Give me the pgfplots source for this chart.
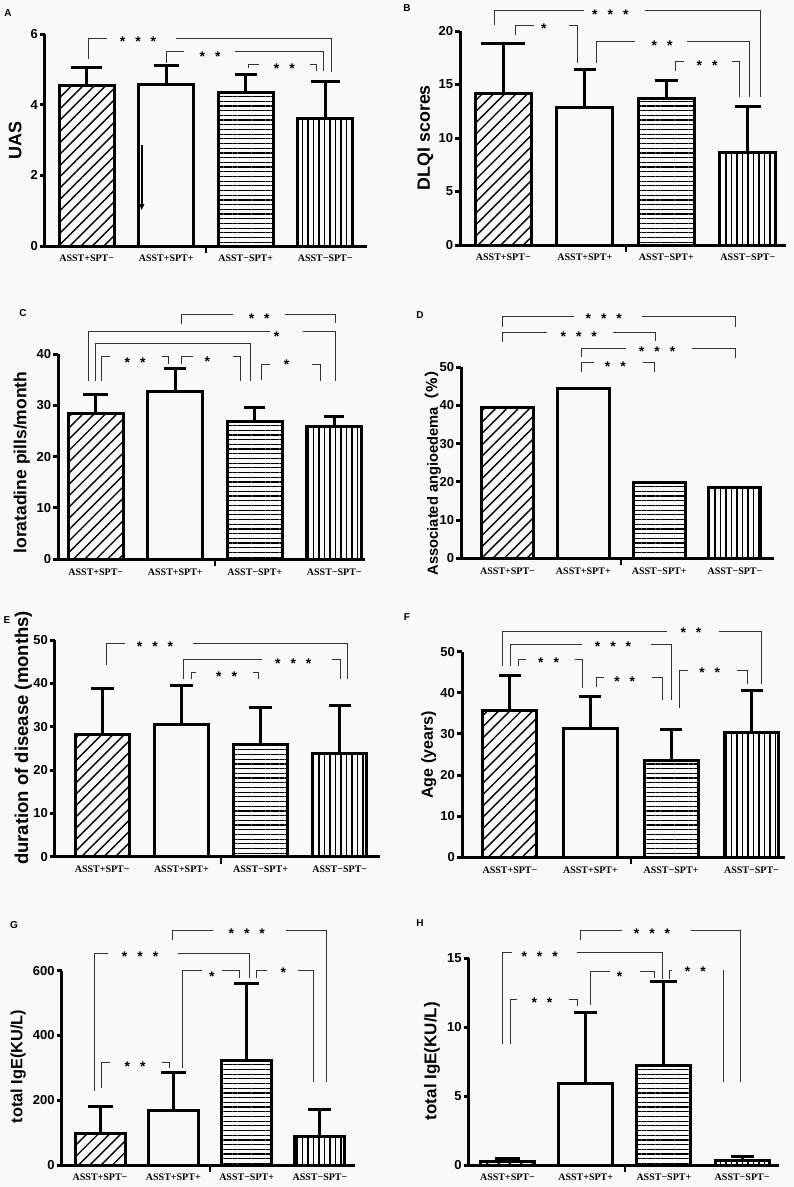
\documentclass[border=0pt]{standalone}
\usepackage{fontspec}
\setmainfont{Liberation Sans}
\newfontfamily\tnr{Liberation Serif}
\newfontfamily\cjk{Noto Sans CJK SC}
\usepackage{pgfplots}
\pgfplotsset{compat=1.18}
\usetikzlibrary{patterns.meta,arrows.meta}
\definecolor{bg}{RGB}{249,249,249}

\newcommand\cvx[2]{\pgfmathsetmacro#1{(#2-\xo)/\xs}}
\newcommand\cvy[2]{\pgfmathsetmacro#1{(\yo-#2)*\yk}}
\newcommand\brk[7]{%
 \cvx\qa{#1}\cvy\qb{#2}\cvy\qc{#3}\cvx\qd{#4}\cvx\qe{#5}\cvx\qf{#6}\cvy\qg{#7}%
 \edef\mytmp{\noexpand\draw[brk] (axis cs:\qa,\qb) -- (axis cs:\qa,\qc) -- (axis cs:\qd,\qc);
 \noexpand\draw[brk] (axis cs:\qe,\qc) -- (axis cs:\qf,\qc) -- (axis cs:\qf,\qg);}\mytmp}
\newcommand\stars[3]{\cvx\qa{#1}\cvy\qb{#2}%
 \edef\mytmp{\noexpand\node[st] at (axis cs:\qa,\qb) {\unexpanded{#3}};}\mytmp}
\newcommand\sA{*}
\newcommand\sB{*\hspace{10pt}*}
\newcommand\sC{*\hspace{10pt}*\hspace{10pt}*}

\tikzset{brk/.style={line width=0.9pt, black!80},
 st/.style={font=\fontsize{14}{14}\selectfont\bfseries, inner sep=0pt, yshift=-3pt},
 gaptick/.style={line width=2pt}}

\pgfplotsset{
 pan/.style={
  scale only axis, anchor=south west, clip=false,
  axis x line=bottom, axis y line=left,
  axis line style={-, line width=3pt, black},
  ymin=0, enlargelimits=false,
  xtick={0,1,2,3},
  xticklabels={ASST+SPT−,ASST+SPT+,ASST−SPT+,ASST−SPT−},
  x tick style={draw=none},
  y tick style={line width=3pt, black},
  tick align=outside, major tick length=5pt, minor tick num=0,
  xticklabel style={font=\fontsize{10}{12}\tnr\bfseries, inner sep=0pt, yshift=-4pt},
  yticklabel style={font=\fontsize{13}{15}\selectfont\bfseries, inner sep=2pt},
  /pgf/number format/assume math mode=true,
  ybar, bar shift=0pt,
 },
 b1/.style={draw=black, line width=3pt, bar shift=0pt, pattern={Lines[angle=45,distance=8pt,line width=1.4pt]}},
 b2/.style={draw=black, line width=3pt, bar shift=0pt, fill=none},
 b3/.style={draw=black, line width=3pt, bar shift=0pt, pattern={Lines[angle=0,distance=4.7pt,line width=1.2pt]}},
 b4/.style={draw=black, line width=3pt, bar shift=0pt, pattern={Lines[angle=90,distance=5.5pt,line width=1.2pt]}},
 eb/.style={error bars/.cd, y dir=plus, y explicit,
   error mark options={rotate=90, mark size=#1, line width=3pt, black},
   error bar style={line width=3pt, black}},
}

\begin{document}
\begin{tikzpicture}
\fill[bg] (0pt,0pt) rectangle (794pt,-1187pt);
\path[use as bounding box] (0pt,0pt) rectangle (794pt,-1187pt);

% ---------------- A
\def\xo{86.7}\def\xs{79.5}\def\yo{246}\def\yk{0.028342}
\begin{axis}[pan, at={(45pt,-246pt)}, width=321.7pt, height=211.7pt,
  xmin=-0.525, xmax=3.522, ymax=6, ytick={0,2,4,6}, bar width=55pt,
  ylabel={UAS}, ylabel style={at={(axis description cs:-0.093,0.5)}, anchor=center, font=\fontsize{18}{20}\selectfont\bfseries}]
\addplot[b1, eb=15.5pt] coordinates {(0,4.56) +- (0,0.49)};
\addplot[b2, eb=12.5pt] coordinates {(1,4.59) +- (0,0.52)};
\addplot[b3, eb=11pt] coordinates {(2,4.34) +- (0,0.53)};
\addplot[b4, eb=14.5pt] coordinates {(3,3.60) +- (0,1.05)};
\draw[gaptick] (axis cs:1.5,0) -- ++(0pt,-7pt);
\draw[line width=2pt,-{Triangle[length=6pt,width=5pt]}] (axis cs:0.692,2.86) -- (axis cs:0.692,1.02);
\brk{88.3}{59.3}{38.3}{107.3}{175.7}{331}{71.7} \stars{138}{38.3}{\sC}
\brk{166.7}{63.3}{51.7}{184.3}{235}{323.3}{71} \stars{210}{53.3}{\sB}
\brk{248.3}{68.3}{64.3}{259.3}{310}{316}{71} \stars{284.3}{66}{\sB}
\end{axis}

% ---------------- B
\def\xo{503.3}\def\xs{81.5}\def\yo{245}\def\yk{0.093458}
\begin{axis}[pan, at={(460.3pt,-245pt)}, width=325.7pt, height=214pt,
  xmin=-0.528, xmax=3.468, ymax=20, ytick={0,5,10,15,20}, bar width=56pt,
  ylabel={DLQI scores}, ylabel style={at={(axis description cs:-0.107,0.502)}, anchor=center, font=\fontsize{17.8}{20}\selectfont\bfseries}]
\addplot[b1, eb=22pt] coordinates {(0,14.18) +- (0,4.67)};
\addplot[b2, eb=11pt] coordinates {(1,12.87) +- (0,3.55)};
\addplot[b3, eb=11.5pt] coordinates {(2,13.71) +- (0,1.65)};
\addplot[b4, eb=13pt] coordinates {(3,8.63) +- (0,4.30)};
\draw[gaptick] (axis cs:1.5,0) -- ++(0pt,-7pt);
\brk{494.3}{25}{10.7}{583.7}{645.3}{760.3}{96.7} \stars{610.3}{11.7}{\sC}
\brk{515.3}{35}{25}{533.7}{568.7}{577}{62.7} \stars{543.7}{26}{\sA}
\brk{596}{62.7}{41.7}{635.3}{687}{749.7}{96.7} \stars{662}{42.7}{\sB}
\brk{675.3}{71}{61.7}{683.7}{732}{739.7}{96.7} \stars{707}{62.7}{\sB}
\end{axis}

% ---------------- C
\def\xo{95.8}\def\xs{79.5}\def\yo{559.3}\def\yk{0.194837}
\begin{axis}[pan, at={(58.3pt,-559.3pt)}, width=306.7pt, height=205.3pt,
  xmin=-0.472, xmax=3.386, ymax=40, ytick={0,10,20,30,40}, bar width=55pt,
  ylabel={loratadine pills/month}, ylabel style={at={(axis description cs:-0.119,0.4715)}, anchor=center, font=\fontsize{17.5}{20}\selectfont\bfseries}]
\addplot[b1, eb=12.5pt] coordinates {(0,28.45) +- (0,3.70)};
\addplot[b2, eb=11pt] coordinates {(1,32.65) +- (0,4.48)};
\addplot[b3, eb=10.5pt] coordinates {(2,26.94) +- (0,2.66)};
\addplot[b4, eb=10pt] coordinates {(3,25.84) +- (0,2.08)};
\draw[gaptick] (axis cs:1.5,0) -- ++(0pt,-7pt);
\brk{181.7}{324.3}{314.3}{233.3}{285}{335}{323.3} \stars{259.2}{316}{\sB}
\brk{88.3}{380.7}{331}{270}{302.7}{335}{380.7} \stars{276.7}{333.3}{\sA}
\brk{95}{380.7}{343.3}{250}{250}{250}{380.7}
\brk{101.7}{380.7}{356.7}{110}{161.7}{168.3}{364} \stars{135}{360}{\sB}
\brk{181.7}{364}{356.7}{192.7}{233.3}{240}{380.7} \stars{207.3}{358.3}{\sA}
\brk{261.7}{380}{364}{270}{311.7}{320}{380.7} \stars{286.7}{361.7}{\sA}
\end{axis}

% ---------------- D
\def\xo{507.5}\def\xs{75.8}\def\yo{558.3}\def\yk{0.261780}
\begin{axis}[pan, at={(461.3pt,-558.3pt)}, width=312.4pt, height=191pt,
  xmin=-0.61, xmax=3.511, ymax=50, ytick={0,10,20,30,40,50}, bar width=52pt,
  ylabel={Associated angioedema{\cjk （\%）}}, ylabel style={at={(axis description cs:-0.0906,0.4665)}, anchor=center, font=\fontsize{14.7}{17}\selectfont\bfseries}]
\addplot[b1] coordinates {(0,39.5)};
\addplot[b2] coordinates {(1,44.5)};
\addplot[b3] coordinates {(2,19.8)};
\addplot[b4] coordinates {(3,18.6)};
\draw[gaptick] (axis cs:1.5,0) -- ++(0pt,-7pt);
\brk{502.7}{326.7}{316.7}{573.7}{642}{735.3}{326.7} \stars{603.7}{316}{\sC}
\brk{502.7}{342.3}{332.3}{547}{613}{655.3}{341} \stars{578.7}{333.3}{\sC}
\brk{581.3}{356.7}{348.3}{626.3}{692}{735.3}{358.3} \stars{657}{348.3}{\sC}
\brk{581.3}{371.7}{362.7}{593.7}{643}{654.3}{371.7} \stars{615.3}{364}{\sB}
\end{axis}

% ---------------- E
\def\xo{102.2}\def\xs{79.2}\def\yo{856.7}\def\yk{0.230734}
\begin{axis}[pan, at={(55pt,-856.7pt)}, width=325pt, height=216.7pt,
  xmin=-0.596, xmax=3.508, ymax=50, ytick={0,10,20,30,40,50}, bar width=54pt,
  ylabel={duration of disease (months)}, ylabel style={at={(axis description cs:-0.0975,0.548)}, anchor=center, font=\fontsize{18.5}{20}\selectfont\bfseries}]
\addplot[b1, eb=11.5pt] coordinates {(0,28.3) +- (0,10.6)};
\addplot[b2, eb=11.5pt] coordinates {(1,30.6) +- (0,8.8)};
\addplot[b3, eb=11.5pt] coordinates {(2,26.0) +- (0,8.5)};
\addplot[b4, eb=11pt] coordinates {(3,23.9) +- (0,11.1)};
\draw[gaptick] (axis cs:1.5,0) -- ++(0pt,-7pt);
\brk{106}{665}{643.3}{125}{193.3}{347.7}{679.3} \stars{155}{643.3}{\sC}
\brk{183.3}{679.3}{659}{261.7}{331.7}{340}{679.3} \stars{293.3}{660.7}{\sC}
\brk{191}{679.3}{672.7}{196}{253.3}{258.3}{679.3} \stars{226.7}{674}{\sB}
\end{axis}

% ---------------- F
\def\xo{510}\def\xs{80.5}\def\yo{857.3}\def\yk{0.243191}
\begin{axis}[pan, at={(462pt,-857.3pt)}, width=323pt, height=205.6pt,
  xmin=-0.596, xmax=3.416, ymax=50, ytick={0,10,20,30,40,50}, bar width=54pt,
  ylabel={Age (years)}, ylabel style={at={(axis description cs:-0.103,0.4976)}, anchor=center, font=\fontsize{16}{18}\selectfont\bfseries}]
\addplot[b1, eb=11pt] coordinates {(0,35.6) +- (0,8.6)};
\addplot[b2, eb=11pt] coordinates {(1,31.3) +- (0,7.8)};
\addplot[b3, eb=11pt] coordinates {(2,23.5) +- (0,7.6)};
\addplot[b4, eb=11pt] coordinates {(3,30.3) +- (0,10.2)};
\draw[gaptick] (axis cs:1.5,0) -- ++(0pt,-7pt);
\brk{502.7}{666}{631}{667}{718.7}{761.3}{684} \stars{691}{630}{\sB}
\brk{510.3}{666}{644}{582}{651}{671.3}{700} \stars{613}{643.3}{\sC}
\brk{518.7}{666}{659.3}{526.3}{574.7}{582}{688.3} \stars{548.7}{660}{\sB}
\brk{596}{686.7}{677.7}{603.7}{652}{662.7}{700} \stars{624.7}{678.3}{\sB}
\brk{679.3}{708.3}{670}{688}{737}{747.7}{684} \stars{709.7}{670}{\sB}
\end{axis}

% ---------------- G
\def\xo{100}\def\xs{73.3}\def\yo{1165}\def\yk{3.088008}
\begin{axis}[pan, at={(61.7pt,-1165pt)}, width=293.3pt, height=194.3pt,
  xmin=-0.523, xmax=3.478, ymax=600, ytick={0,200,400,600}, bar width=50pt,
  ylabel={total IgE(KU/L)}, ylabel style={at={(axis description cs:-0.148,0.507)}, anchor=center, font=\fontsize{16.3}{18}\selectfont\bfseries}]
\addplot[b1, eb=12.5pt] coordinates {(0,97.9) +- (0,82)};
\addplot[b2, eb=12.5pt] coordinates {(1,169.8) +- (0,115)};
\addplot[b3, eb=12.5pt] coordinates {(2,324) +- (0,237)};
\addplot[b4, eb=11.5pt] coordinates {(3,87.4) +- (0,85)};
\draw[gaptick] (axis cs:1.5,0) -- ++(0pt,-7pt);
\brk{172.7}{940}{930}{213.3}{286}{326}{1081.7} \stars{246.7}{930.7}{\sC}
\brk{94.3}{1090.7}{953.3}{108.3}{177.7}{249.3}{978.3} \stars{140}{954}{\sC}
\brk{182.7}{1068.3}{970}{201.7}{221.7}{239.3}{978.3} \stars{211.7}{973.3}{\sA}
\brk{256}{978.3}{970}{266.7}{297.7}{313.3}{1081.7} \stars{283.3}{970}{\sA}
\brk{101.7}{1088.3}{1062.7}{110}{161.7}{169.3}{1068.3} \stars{135}{1063.3}{\sB}
\end{axis}

% ---------------- H
\def\xo{507.5}\def\xs{78.2}\def\yo{1165}\def\yk{0.072569}
\begin{axis}[pan, at={(468.7pt,-1165pt)}, width=310pt, height=206.7pt,
  xmin=-0.496, xmax=3.468, ymax=15, ytick={0,5,10,15}, bar width=54pt,
  ylabel={total IgE(KU/L)}, ylabel style={at={(axis description cs:-0.118,0.503)}, anchor=center, font=\fontsize{17}{19}\selectfont\bfseries}]
\addplot[b1, eb=12.5pt] coordinates {(0,0.28) +- (0,0.17)};
\addplot[b2, eb=11.5pt] coordinates {(1,5.93) +- (0,5.15)};
\addplot[b3, eb=13.5pt] coordinates {(2,7.2) +- (0,6.15)};
\addplot[b4, eb=11.5pt] coordinates {(3,0.35) +- (0,0.25)};
\draw[gaptick] (axis cs:1.5,0) -- ++(0pt,-7pt);
\brk{580.3}{940}{930}{622}{691.3}{740.3}{1081.7} \stars{652}{930.7}{\sC}
\brk{502.7}{1044}{952.7}{512}{577}{662.7}{979.3} \stars{539.7}{954}{\sC}
\brk{590.3}{1005}{971}{610.3}{639.7}{654.7}{978.3} \stars{619.7}{973.3}{\sA}
\brk{669.7}{979.3}{970}{672}{723}{723}{1081.7} \stars{695.3}{968.3}{\sB}
\brk{510.3}{1044}{999.3}{517}{568.7}{577}{1006} \stars{542}{1000}{\sB}
\end{axis}

% panel letters
\begin{scope}[every node/.style={font=\fontsize{10}{12}\selectfont\bfseries, inner sep=0pt}]
\node at (8pt,-13pt) {A};
\node at (407pt,-8pt) {B};
\node at (23pt,-313pt) {C};
\node at (420pt,-315pt) {D};
\node at (7pt,-620pt) {E};
\node at (407pt,-617pt) {F};
\node at (14pt,-925pt) {G};
\node at (420pt,-923pt) {H};
\end{scope}
\end{tikzpicture}
\end{document}
